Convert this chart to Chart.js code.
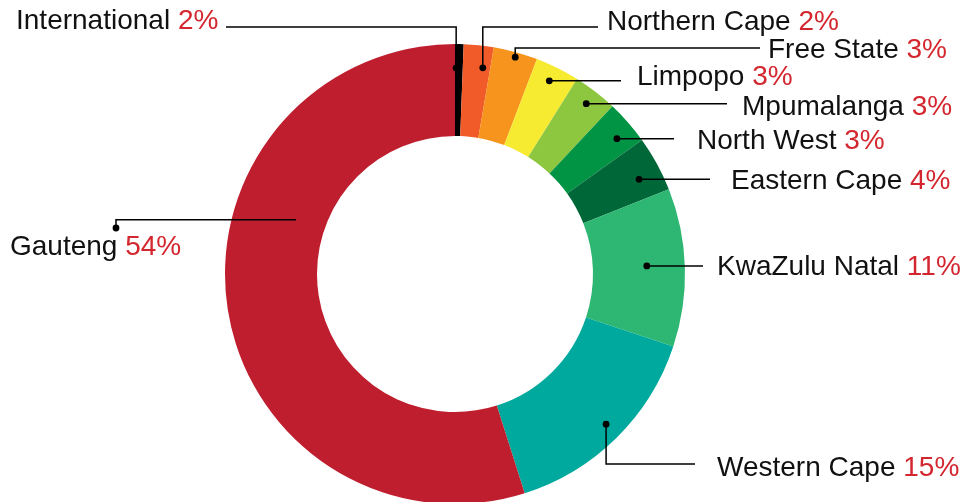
<!DOCTYPE html>
<html>
<head>
<meta charset="utf-8">
<script src="https://cdn.jsdelivr.net/npm/chart.js@4"></script>
<style>
  html, body { margin: 0; padding: 0; background: #fff; overflow: hidden; }
  #wrap { position: relative; width: 964px; height: 510px; }
</style>
</head>
<body>
<div id="wrap"><canvas id="provinceChart"></canvas></div>
<script>
// =============== DATA ===============

const regions = [
  "International", "Northern Cape", "Free State", "Limpopo", "Mpumalanga",
  "North West", "Eastern Cape", "KwaZulu Natal", "Western Cape", "Gauteng",
];

// slice sizes as drawn in the ring
const shares = [0.6, 2.1, 3.1, 3.1, 3.1, 3.1, 3.9, 11.1, 15.0, 54.9];

// percentages printed in the labels
const shareLabels = ["2%", "2%", "3%", "3%", "3%", "3%", "4%", "11%", "15%", "54%"];

const sliceColours = [
  "#000000", "#f15a29", "#f7941d", "#f6eb31", "#8dc63f",
  "#009444", "#006838", "#2eb673", "#00a99d", "#be1e2d",
];

// =============== CALLOUT LAYOUT ===============
// t = how far along the slice the leader starts, r = radius of that point,
// path = elbows after the start point, text = left edge / baseline of label

const callouts = [
  { t: 0.15, r: 206, path: [{ y: 27 }, { x: 226 }], text: { x: 16, y: 29 } },
  { t: 0.73, r: 208, path: [{ y: 27 }, { x: 598 }], text: { x: 607, y: 30 } },
  { t: 0.52, r: 225, path: [{ y: 48 }, { x: 760 }], text: { x: 768, y: 58 } },
  { t: 0.46, r: 215, path: [{ x: 621 }], text: { x: 637, y: 85 } },
  { t: 0.5, r: 215, path: [{ x: 727 }], text: { x: 742, y: 115 } },
  { t: 0.62, r: 211, path: [{ x: 674 }], text: { x: 697, y: 149 } },
  { t: 0.6, r: 207, path: [{ x: 710 }], text: { x: 731, y: 189 } },
  { t: 0.48, r: 192, path: [{ x: 703 }], text: { x: 717, y: 275 } },
  { t: 0.49, r: 213, path: [{ y: 464 }, { x: 695 }], text: { x: 717, y: 476 } },
  { t: 0.64, r: 168, path: [{ x: 116 }, { y: 228 }], text: { x: 10, y: 255 }, dotAtEnd: true },
];

const labelFont = "28px 'Liberation Sans', Arial, Helvetica, sans-serif";

// =============== CALLOUT PLUGIN ===============

const calloutPlugin = {
  id: "callouts",
  afterDatasetsDraw(chart) {
    const ctx = chart.ctx;
    const arcs = chart.getDatasetMeta(0).data;

    ctx.save();
    ctx.strokeStyle = "#000";
    ctx.lineWidth = 1.5;

    arcs.forEach((arc, i) => {
      const c = callouts[i];
      if (!c) return;
      const a = arc.startAngle + c.t * (arc.endAngle - arc.startAngle);
      const sx = arc.x + Math.cos(a) * c.r;
      const sy = arc.y + Math.sin(a) * c.r;
      let px = sx;
      let py = sy;

      ctx.beginPath();
      ctx.moveTo(px, py);
      c.path.forEach((p) => {
        if (p.x !== undefined) px = p.x;
        if (p.y !== undefined) py = p.y;
        ctx.lineTo(px, py);
      });
      ctx.stroke();

      const dot = c.dotAtEnd ? { x: px, y: py } : { x: sx, y: sy };
      ctx.fillStyle = "#000";
      ctx.beginPath();
      ctx.arc(dot.x, dot.y, 3.4, 0, Math.PI * 2);
      ctx.fill();

      // label: name in black, percentage in red
      ctx.font = labelFont;
      ctx.textBaseline = "alphabetic";
      ctx.textAlign = "left";
      const name = regions[i] + " ";
      ctx.fillStyle = "#111";
      ctx.fillText(name, c.text.x, c.text.y);
      const w = ctx.measureText(name).width;
      ctx.fillStyle = "#d4262f";
      ctx.fillText(shareLabels[i], c.text.x + w, c.text.y);
    });

    ctx.restore();
  },
};

// =============== CHART ===============

new Chart(document.getElementById("provinceChart"), {
  type: "doughnut",
  data: {
    labels: regions,
    datasets: [
      {
        data: shares,
        backgroundColor: sliceColours,
        borderWidth: 0,
        hoverOffset: 0,
      },
    ],
  },
  options: {
    responsive: true,
    maintainAspectRatio: false,
    animation: false,
    cutout: "60%",
    layout: { padding: { left: 0, right: 54, top: 44, bottom: 6 } },
    plugins: {
      legend: { display: false },
      tooltip: { enabled: false },
    },
  },
  plugins: [calloutPlugin],
});
</script>
</body>
</html>
